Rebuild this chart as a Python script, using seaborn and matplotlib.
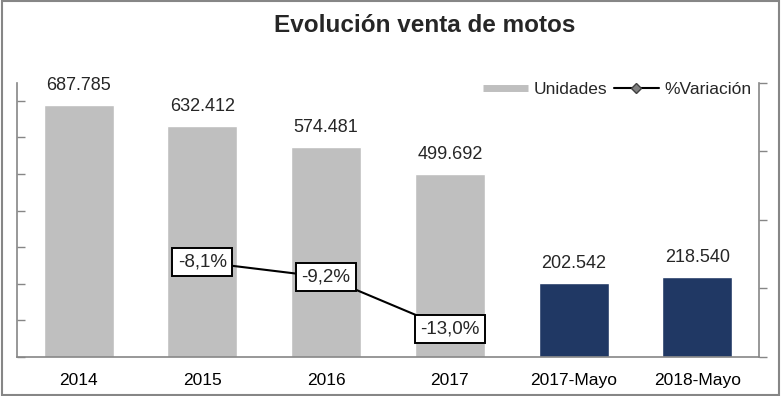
import matplotlib
matplotlib.use("Agg")
import matplotlib.pyplot as plt
import seaborn as sns
import pandas as pd
from matplotlib.lines import Line2D
from matplotlib.patches import Rectangle

categories = ["2014", "2015", "2016", "2017", "2017-Mayo", "2018-Mayo"]
unidades = [687785, 632412, 574481, 499692, 202542, 218540]
unidades_labels = ["687.785", "632.412", "574.481", "499.692", "202.542", "218.540"]
var_categories = ["2015", "2016", "2017"]
variacion = [-8.1, -9.2, -13.0]
variacion_labels = ["-8,1%", "-9,2%", "-13,0%"]
bar_colors = ["#BFBFBF", "#BFBFBF", "#BFBFBF", "#BFBFBF", "#203864", "#203864"]

sns.set_style("white")
plt.rcParams["font.family"] = ["Liberation Sans", "DejaVu Sans"]

fig = plt.figure(figsize=(7.81, 3.96), dpi=100)
ax = fig.add_axes([16.7 / 781, 1 - 356.7 / 396, (759.3 - 16.7) / 781, (356.7 - 82.7) / 396])

df = pd.DataFrame({"cat": categories, "val": unidades})
sns.barplot(data=df, x="cat", y="val", hue="cat", palette=bar_colors, legend=False,
            width=0.566, saturation=1, ax=ax, order=categories)
ax.set_xlim(-0.5, len(categories) - 0.5)
ax.set_ylim(0, 750000)
ax.set_yticks(range(0, 700001, 100000))
ax.set_yticklabels([])
ax.set_xlabel("")
ax.set_ylabel("")
ax.tick_params(axis="y", direction="in", length=5.5, width=1, color="#868686", left=True)
ax.tick_params(axis="x", length=0, labelsize=12.5, pad=12, colors="black")
for s in ["left", "bottom"]:
    ax.spines[s].set_color("#868686")
    ax.spines[s].set_linewidth(1.2)
for s in ["top", "right"]:
    ax.spines[s].set_visible(False)

for i, (v, lab) in enumerate(zip(unidades, unidades_labels)):
    ax.annotate(lab, (i, v), xytext=(0, 8), textcoords="offset points",
                ha="center", va="bottom", fontsize=13)

ax2 = ax.twinx()
pos = [categories.index(c) for c in var_categories]
sns.lineplot(x=pos, y=variacion, ax=ax2, color="black", lw=1.5, marker="D",
             markersize=5, markerfacecolor="#808080", markeredgecolor="#404040")
ax2.set_ylim(-15, 5)
ax2.set_yticks([-15, -10, -5, 0, 5])
ax2.set_yticklabels([])
ax2.tick_params(axis="y", direction="out", length=5.5, width=1, color="#868686", right=True)
for s in ["top", "left", "bottom"]:
    ax2.spines[s].set_visible(False)
ax2.spines["right"].set_color("#868686")
ax2.spines["right"].set_linewidth(1.2)
ax2.set_xlim(-0.5, len(categories) - 0.5)

for x, v, lab in zip(pos, variacion, variacion_labels):
    ax2.text(x, v, lab, ha="center", va="center", fontsize=13.5, zorder=5,
             bbox=dict(boxstyle="square,pad=0.3", facecolor="white", edgecolor="black", linewidth=1.4))

handles = [
    Line2D([0], [0], color="#BFBFBF", lw=5, solid_capstyle="butt"),
    Line2D([0], [0], color="black", lw=1.5, marker="D", markersize=5,
           markerfacecolor="#808080", markeredgecolor="#404040"),
]
leg = fig.legend(handles, ["Unidades", "%Variación"], loc="center left",
                 bbox_to_anchor=(483 / 781, 1 - 89 / 396), ncol=2, frameon=False,
                 fontsize=12.5, handlelength=2.6, handletextpad=0.3, columnspacing=0.4,
                 borderaxespad=0, borderpad=0)

fig.text(425 / 781, 1 - 25 / 396, "Evolución venta de motos", ha="center", va="center",
         fontsize=17.5, fontweight="bold")

fig.patches.append(Rectangle((0.002, 0.003), 0.996, 0.994, transform=fig.transFigure,
                             fill=False, edgecolor="#868686", linewidth=1.5, zorder=10))

fig.savefig("out.png", dpi=100)
